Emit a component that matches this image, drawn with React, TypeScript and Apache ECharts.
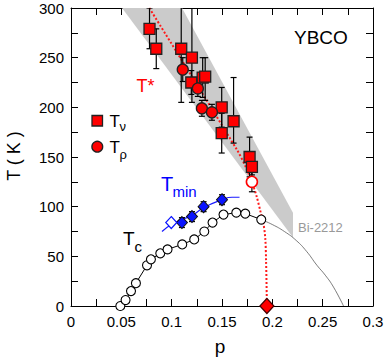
import React, { useEffect, useRef } from "react";
import * as echarts from "echarts";

// ---- Data ----
// T_nu (red squares): doping p, temperature T, error-bar low / high
const tnuP = [0.078, 0.0847, 0.1095, 0.1201, 0.1195, 0.1308, 0.1333, 0.1497, 0.1615, 0.1497, 0.1774, 0.1797];
const tnuT = [279, 259, 259, 250, 225, 230, 231, 200, 186, 174, 150, 140];
const tnuLo = [259, 239, 205, 205, 213, 210, 207, 180, 164, 154, 130, 132];
const tnuHi = [300, 279, 315, 305, 237, 250, 250, 220, 230, 194, 170, 148];

// T_rho (red circles)
const trhoP = [0.111, 0.126, 0.13, 0.14];
const trhoT = [238, 219, 199, 195];
const trhoLo = [226, 211, 191, 187];
const trhoHi = [250, 227, 207, 203];

// open red circle
const trhoOpenP = [0.1797];
const trhoOpenT = [125];
const trhoOpenLo = [115];
const trhoOpenHi = [135];

// T_min (blue diamonds)
const tminP = [0.1102, 0.1202, 0.1317, 0.15];
const tminT = [84, 90, 100, 107];
const tminErr = [5, 5, 5, 5];
const tminOpenP = [0.0996];
const tminOpenT = [84];

// T_min guide curve
const tminCurveP = [0.0904, 0.0996, 0.11, 0.12, 0.1317, 0.15, 0.16, 0.1674];
const tminCurveT = [75, 82, 87, 91, 99, 107, 109.5, 109.5];

// Tc (open black circles)
const tcP = [0.049, 0.0542, 0.0596, 0.0645, 0.0755, 0.0794, 0.0887, 0.0959, 0.1105, 0.1224, 0.1324, 0.1406, 0.1515, 0.1642, 0.1731, 0.189];
const tcT = [0, 6, 15, 23, 41, 47, 53, 57, 62, 67, 75, 84, 92, 94, 93, 87];

// Bi-2212 Tc dome (thin grey curve)
const biP = [0.189, 0.2, 0.212, 0.2237, 0.234, 0.2443, 0.2526, 0.2608, 0.2707];
const biT = [87, 82, 75, 66, 55, 41, 31, 19, 0];

// T* red dotted line
const tStarP = [0.0778, 0.165, 0.1745, 0.1797, 0.1845, 0.188, 0.1913, 0.193, 0.1938, 0.1946];
const tStarT = [300, 157, 138, 125, 110, 96, 82, 68, 45, 0];

// red diamond at T = 0
const pStarP = [0.1946];
const pStarT = [0];

// grey band (Bi-2212 pseudogap region)
const bandP = [0.0507, 0.1103, 0.2205, 0.2205];
const bandT = [300, 300, 94, 69];

const xMin = 0, xMax = 0.3, xStep = 0.05;
const yMin = 0, yMax = 300, yStep = 50;

const FONT = "'Liberation Sans', Arial, Helvetica, sans-serif";

export default function App() {
  const ref = useRef<HTMLDivElement>(null);

  useEffect(() => {
    if (!ref.current) return;
    const chart = echarts.init(ref.current, undefined, { renderer: "svg" });

    const zip = (a: number[], b: number[]) => a.map((v, i) => [v, b[i]]);

    const errData: number[][] = [];
    tnuP.forEach((p, i) => errData.push([p, tnuLo[i], tnuHi[i]]));
    trhoP.forEach((p, i) => errData.push([p, trhoLo[i], trhoHi[i]]));
    trhoOpenP.forEach((p, i) => errData.push([p, trhoOpenLo[i], trhoOpenHi[i]]));
    tminP.forEach((p, i) => errData.push([p, tminT[i] - tminErr[i], tminT[i] + tminErr[i]]));

    const axisCommon = {
      type: "value" as const,
      axisLine: { show: true, onZero: false, lineStyle: { color: "#000", width: 1 } },
      axisTick: { show: true, inside: true, length: 7, lineStyle: { color: "#000", width: 1 } },
      minorTick: { show: true, splitNumber: 2, length: 7, lineStyle: { color: "#000", width: 1 } },
      splitLine: { show: false },
      minorSplitLine: { show: false },
    };

    const fmtX = (v: number) => String(+v.toFixed(2));

    const option: any = {
      animation: false,
      textStyle: { fontFamily: FONT },
      grid: { left: 71, top: 8, width: 302, height: 298, containLabel: false, outerBoundsMode: "none" },
      xAxis: [
        {
          ...axisCommon,
          min: xMin, max: xMax, interval: xStep, position: "bottom",
          axisLabel: { color: "#000", fontSize: 15, margin: 8, fontFamily: FONT, formatter: fmtX },
        },
        {
          ...axisCommon,
          min: xMin, max: xMax, interval: xStep, position: "top",
          axisLabel: { show: false },
        },
      ],
      yAxis: [
        {
          ...axisCommon,
          min: yMin, max: yMax, interval: yStep, position: "left",
          axisLabel: { color: "#000", fontSize: 15, margin: 7, fontFamily: FONT },
        },
        {
          ...axisCommon,
          min: yMin, max: yMax, interval: yStep, position: "right",
          axisLabel: { show: false },
        },
      ],
      series: [
        {
          type: "custom",
          name: "band",
          silent: true,
          z: 1,
          data: [[0]],
          renderItem: (_params: any, api: any) => {
            const pts = bandP.map((p, i) => api.coord([p, bandT[i]]));
            return { type: "polygon", shape: { points: pts }, style: { fill: "#cbcbcb", stroke: "none" } };
          },
        },
        {
          type: "line",
          name: "Bi-2212",
          data: zip(biP, biT),
          smooth: true,
          showSymbol: false,
          symbol: "none",
          z: 2,
          lineStyle: { color: "#444", width: 0.7 },
        },
        {
          type: "line",
          name: "T*",
          data: zip(tStarP, tStarT),
          showSymbol: false,
          symbol: "none",
          smooth: 0.3,
          z: 3,
          lineStyle: { color: "#ff1a1a", width: 2, type: [2, 2] },
        },
        {
          type: "line",
          name: "Tc",
          data: zip(tcP, tcT),
          symbol: "circle",
          symbolSize: 9,
          showSymbol: true,
          z: 4,
          clip: false,
          lineStyle: { color: "#000", width: 1 },
          itemStyle: { color: "#fff", borderColor: "#000", borderWidth: 1.1 },
        },
        {
          type: "line",
          name: "Tmin curve",
          data: zip(tminCurveP, tminCurveT),
          smooth: true,
          showSymbol: false,
          symbol: "none",
          z: 4,
          lineStyle: { color: "#1a1aff", width: 1.2 },
        },
        {
          type: "custom",
          name: "errors",
          z: 5,
          clip: true,
          data: errData,
          encode: { x: 0, y: [1, 2] },
          renderItem: (params: any, api: any) => {
            const p = api.value(0), lo = api.value(1), hi = api.value(2);
            const a = api.coord([p, lo]);
            const b = api.coord([p, hi]);
            const top = params.coordSys.y;
            const yTop = Math.max(b[1], top);
            const cw = 3;
            const st = { stroke: "#000", lineWidth: 1.2 };
            const children: any[] = [
              { type: "line", shape: { x1: a[0], y1: a[1], x2: a[0], y2: yTop }, style: st },
              { type: "line", shape: { x1: a[0] - cw, y1: a[1], x2: a[0] + cw, y2: a[1] }, style: st },
            ];
            if (b[1] >= top) {
              children.push({ type: "line", shape: { x1: b[0] - cw, y1: b[1], x2: b[0] + cw, y2: b[1] }, style: st });
            }
            return { type: "group", children };
          },
        },
        {
          type: "scatter",
          name: "Tν",
          data: zip(tnuP, tnuT),
          symbol: "rect",
          symbolSize: 11,
          z: 6,
          itemStyle: { color: "#ff0000", borderColor: "#222", borderWidth: 1.3, opacity: 1 },
        },
        {
          type: "scatter",
          name: "Tρ",
          data: zip(trhoP, trhoT),
          symbol: "circle",
          symbolSize: 11,
          z: 6,
          itemStyle: { color: "#ff0000", borderColor: "#222", borderWidth: 1.3, opacity: 1 },
        },
        {
          type: "scatter",
          name: "Tρ open",
          data: zip(trhoOpenP, trhoOpenT),
          symbol: "circle",
          symbolSize: 11,
          z: 6,
          itemStyle: { color: "#fff", borderColor: "#ff0000", borderWidth: 1.6, opacity: 1 },
        },
        {
          type: "scatter",
          name: "Tmin",
          data: zip(tminP, tminT),
          symbol: "diamond",
          symbolSize: [11, 12],
          z: 6,
          itemStyle: { color: "#0a14ff", borderColor: "#111", borderWidth: 1, opacity: 1 },
        },
        {
          type: "scatter",
          name: "Tmin open",
          data: zip(tminOpenP, tminOpenT),
          symbol: "diamond",
          symbolSize: [11, 12],
          z: 6,
          itemStyle: { color: "#fff", borderColor: "#0a14ff", borderWidth: 1.2, opacity: 1 },
        },
        {
          type: "scatter",
          name: "p*",
          data: zip(pStarP, pStarT),
          symbol: "diamond",
          symbolSize: [14, 15],
          z: 7,
          clip: false,
          itemStyle: { color: "#ff0000", borderColor: "#400", borderWidth: 1.2, opacity: 1 },
        },
      ],
      graphic: [
        // axis titles
        { type: "text", x: 220, y: 346, style: { text: "p", fontSize: 19, fontFamily: FONT, fill: "#000", textAlign: "center", textVerticalAlign: "middle" } },
        { type: "text", x: 14, y: 156, rotation: Math.PI / 2, style: { text: "T ( K )", fontSize: 18, fontFamily: FONT, fill: "#000", textAlign: "center", textVerticalAlign: "middle" } },
        // YBCO
        { type: "text", x: 294, y: 37, style: { text: "YBCO", fontSize: 19, fontFamily: FONT, fill: "#000", textAlign: "left", textVerticalAlign: "middle" } },
        // T*
        { type: "text", x: 136.5, y: 86, style: { text: "T*", fontSize: 18, fontFamily: FONT, fill: "#ff0000", textAlign: "left", textVerticalAlign: "middle" } },
        // legend
        { type: "rect", shape: { x: 92, y: 115.5, width: 10.5, height: 10.5 }, style: { fill: "#ff0000", stroke: "#222", lineWidth: 1.3 } },
        { type: "text", x: 109.5, y: 121, style: { text: "T", fontSize: 17, fontFamily: FONT, fill: "#000", textAlign: "left", textVerticalAlign: "middle" } },
        { type: "text", x: 119.5, y: 126.5, style: { text: "ν", fontSize: 13, fontFamily: FONT, fill: "#000", textAlign: "left", textVerticalAlign: "middle" } },
        { type: "circle", shape: { cx: 97.3, cy: 146.7, r: 5.4 }, style: { fill: "#ff0000", stroke: "#222", lineWidth: 1.3 } },
        { type: "text", x: 109.5, y: 147.5, style: { text: "T", fontSize: 17, fontFamily: FONT, fill: "#000", textAlign: "left", textVerticalAlign: "middle" } },
        { type: "text", x: 119.5, y: 154, style: { text: "ρ", fontSize: 13, fontFamily: FONT, fill: "#000", textAlign: "left", textVerticalAlign: "middle" } },
        // Tmin label
        { type: "text", x: 161, y: 184, style: { text: "T", fontSize: 20, fontFamily: FONT, fill: "#0000ff", textAlign: "left", textVerticalAlign: "middle" } },
        { type: "text", x: 172.5, y: 191, style: { text: "min", fontSize: 15, fontFamily: FONT, fill: "#0000ff", textAlign: "left", textVerticalAlign: "middle" } },
        // Tc label
        { type: "text", x: 123, y: 238, style: { text: "T", fontSize: 19, fontFamily: FONT, fill: "#000", textAlign: "left", textVerticalAlign: "middle" } },
        { type: "text", x: 134.5, y: 246, style: { text: "c", fontSize: 15, fontFamily: FONT, fill: "#000", textAlign: "left", textVerticalAlign: "middle" } },
        // Bi-2212
        { type: "text", x: 298, y: 227.5, style: { text: "Bi-2212", fontSize: 13, fontFamily: FONT, fill: "#999", textAlign: "left", textVerticalAlign: "middle" } },
      ],
    };

    chart.setOption(option);
    return () => chart.dispose();
  }, []);

  return <div ref={ref} style={{ width: 390, height: 364, position: "absolute", left: 0, top: 0 }} />;
}
